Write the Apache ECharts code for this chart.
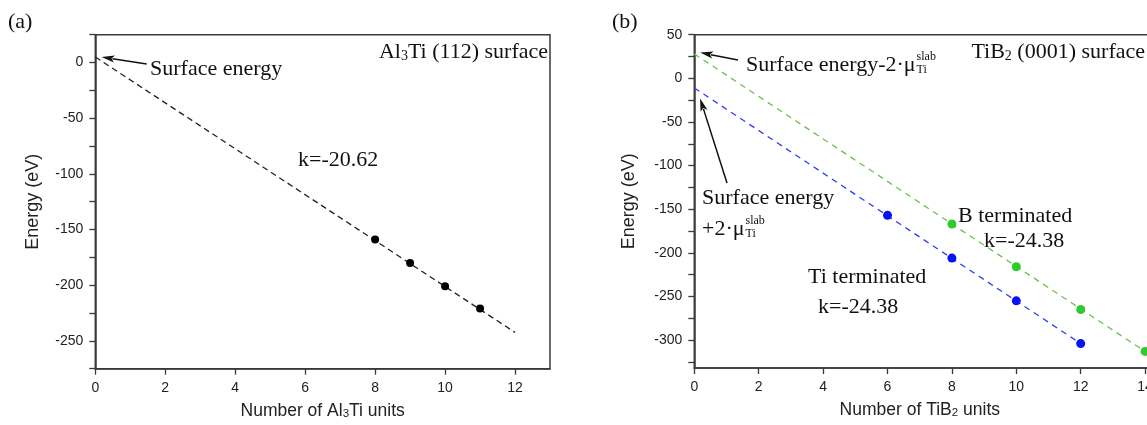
<!DOCTYPE html>
<html><head><meta charset="utf-8">
<script src="https://cdn.jsdelivr.net/npm/echarts@6/dist/echarts.min.js"></script>
<style>html,body{margin:0;padding:0;background:#fff}#c{width:1147px;height:425px}</style>
</head><body><div id="c"></div>
<script>
// ---- data ----
const alUnits = [8, 9, 10, 11];
const alEnergy = [-159, -180, -201, -221];
const alFitX = [0, 12];
const alFitY = [5, -242.4];

const tiUnits = [6, 8, 10, 12];
const tiEnergy = [-157, -206, -255, -304];
const tiFitX = [0, 12];
const tiFitY = [-11, -304];

const bUnits = [8, 10, 12, 14];
const bEnergy = [-167, -216, -265, -313];
const bFitX = [0, 14];
const bFitY = [28, -313];

const xTicksA = [0, 2, 4, 6, 8, 10, 12];
const yTicksA = [-275, -250, -225, -200, -175, -150, -125, -100, -75, -50, -25, 0, 25];
const yLabelsA = [-250, -200, -150, -100, -50, 0];
const xTicksB = [0, 2, 4, 6, 8, 10, 12, 14];
const yTicksB = [-325, -300, -275, -250, -225, -200, -175, -150, -125, -100, -75, -50, -25, 0, 25, 50];
const yLabelsB = [-300, -250, -200, -150, -100, -50, 0, 50];

const SERIF = '"Liberation Serif","Times New Roman",serif';
const SANS = '"Liberation Sans",Arial,sans-serif';
const AX = '#3a3a3a';

function pairs(xs, ys) { return xs.map((x, i) => [x, ys[i]]); }

function xAxisCfg(gi, min, max, ticks, nameRich, pad) {
  return {
    type: 'value', gridIndex: gi, min: min, max: max,
    name: nameRich, nameLocation: 'middle', nameGap: 31,
    nameTextStyle: { fontFamily: SANS, fontSize: 17.5, color: '#222', padding: pad,
      rich: { a: { fontFamily: SANS, fontSize: 17.5, color: '#222', verticalAlign: 'bottom', lineHeight: 20 },
              s: { fontFamily: SANS, fontSize: 11.5, color: '#222', verticalAlign: 'bottom', lineHeight: 19 } } },
    axisLine: { show: true, onZero: false, lineStyle: { color: AX, width: 1.5 } },
    axisTick: { show: true, length: 6, customValues: ticks, lineStyle: { color: AX, width: 1.3 } },
    axisLabel: { customValues: ticks, margin: 12, fontFamily: SANS, fontSize: 14, color: '#222' },
    splitLine: { show: false }
  };
}
function yAxisCfg(gi, min, max, ticks, labels, gap) {
  return {
    type: 'value', gridIndex: gi, min: min, max: max,
    name: 'Energy (eV)', nameLocation: 'middle', nameGap: gap,
    nameTextStyle: { fontFamily: SANS, fontSize: 18, color: '#222' },
    axisLine: { show: true, onZero: false, lineStyle: { color: AX, width: 1.5 } },
    axisTick: { show: true, length: 6, customValues: ticks, lineStyle: { color: AX, width: 1.3 } },
    axisLabel: { customValues: labels, margin: 12, fontFamily: SANS, fontSize: 14, color: '#222' },
    splitLine: { show: false }
  };
}

const chart = echarts.init(document.getElementById('c'), null, { renderer: 'canvas' });

const option = {
  animation: false,
  backgroundColor: '#fff',
  grid: [
    { left: 95.3, top: 34.7, width: 454.7, height: 334, containLabel: false, outerBoundsMode: 'none',
      show: true, borderColor: AX, borderWidth: 1.5, backgroundColor: 'transparent' },
    { left: 694.3, top: 34.7, width: 483, height: 333.3, containLabel: false, outerBoundsMode: 'none',
      show: true, borderColor: AX, borderWidth: 1.5, backgroundColor: 'transparent' }
  ],
  xAxis: [
    xAxisCfg(0, 0, 13, xTicksA, '{a|Number of Al}{s|3}{a|Ti units}', [0, 0, 0, 0]),
    xAxisCfg(1, 0, 15, xTicksB, '{a|Number of TiB}{s|2}{a| units}', [0, 32, 0, 0])
  ],
  yAxis: [
    yAxisCfg(0, -275, 25, yTicksA, yLabelsA, 53),
    yAxisCfg(1, -332, 50, yTicksB, yLabelsB, 56)
  ],
  series: [
    { type: 'line', xAxisIndex: 0, yAxisIndex: 0, data: pairs(alFitX, alFitY), symbol: 'none',
      lineStyle: { color: '#222', width: 1.3, type: [6, 4] }, z: 2 },
    { type: 'scatter', xAxisIndex: 0, yAxisIndex: 0, data: pairs(alUnits, alEnergy), symbolSize: 8,
      itemStyle: { color: '#000', opacity: 1 }, z: 3 },
    { type: 'line', xAxisIndex: 1, yAxisIndex: 1, data: pairs(tiFitX, tiFitY), symbol: 'none',
      lineStyle: { color: '#2b3df2', width: 1.3, type: [6, 5] }, z: 2 },
    { type: 'line', xAxisIndex: 1, yAxisIndex: 1, data: pairs(bFitX, bFitY), symbol: 'none',
      lineStyle: { color: '#6cc04a', width: 1.3, type: [6, 5] }, z: 2 },
    { type: 'scatter', xAxisIndex: 1, yAxisIndex: 1, data: pairs(tiUnits, tiEnergy), symbolSize: 9,
      itemStyle: { color: '#0a12f0', opacity: 1 }, z: 3 },
    { type: 'scatter', xAxisIndex: 1, yAxisIndex: 1, data: pairs(bUnits, bEnergy), symbolSize: 9,
      itemStyle: { color: '#2ecb2e', opacity: 1 }, z: 3 }
  ]
};
chart.setOption(option);

// ---- annotations ----
const mctx = document.createElement('canvas').getContext('2d');
function tw(t, size) { mctx.font = size + 'px ' + SERIF; return mctx.measureText(t).width; }

function txt(x, y, text, size, align) {
  return { type: 'text', z: 50, style: { x: x, y: y, text: text, fontFamily: SERIF, fontSize: size,
    fill: '#111', align: align || 'left', verticalAlign: 'middle' } };
}
function richTxt(x, y, text, align) {
  return { type: 'text', z: 50, style: { x: x, y: y, text: text, fontFamily: SERIF, fontSize: 22,
    fill: '#111', align: align || 'left', verticalAlign: 'middle',
    rich: { a: { fontFamily: SERIF, fontSize: 22, fill: '#111', verticalAlign: 'bottom', lineHeight: 26 },
            s: { fontFamily: SERIF, fontSize: 14, fill: '#111', verticalAlign: 'bottom', lineHeight: 24 } } } };
}
function arrow(tail, tip) {
  const dx = tip[0] - tail[0], dy = tip[1] - tail[1];
  const L = Math.sqrt(dx * dx + dy * dy), ux = dx / L, uy = dy / L;
  const hl = 13, hw = 3.6;
  const bx = tip[0] - ux * hl, by = tip[1] - uy * hl;
  return [
    { type: 'line', z: 50, shape: { x1: tail[0], y1: tail[1], x2: bx + ux * 2, y2: by + uy * 2 },
      style: { stroke: '#111', lineWidth: 1.5 } },
    { type: 'polygon', z: 50, shape: { points: [tip, [bx - uy * hw, by + ux * hw], [bx + ux * 3, by + uy * 3], [bx + uy * hw, by - ux * hw]] },
      style: { fill: '#111' } }
  ];
}
function muLabel(x, y, prefix) {
  const w = tw(prefix, 22);
  return [
    txt(x, y, prefix, 22),
    txt(x + w + 1, y - 8, 'slab', 12),
    txt(x + w + 1, y + 5, 'Ti', 12)
  ];
}

const tipA = chart.convertToPixel({ gridIndex: 0 }, [0.18, 5]);
const tipB1 = chart.convertToPixel({ gridIndex: 1 }, [0.18, 29.5]);
const tipB2 = chart.convertToPixel({ gridIndex: 1 }, [0.18, -23]);

let els = [];
els.push(txt(8, 22, '(a)', 22));
els.push(txt(150, 69, 'Surface energy', 22));
els.push(richTxt(548, 50, '{a|Al}{s|3}{a|Ti (112) surface}', 'right'));
els.push(txt(298, 160, 'k=-20.62', 22));
els = els.concat(arrow([146.7, 64], tipA));

els.push(txt(612, 22, '(b)', 22));
els = els.concat(muLabel(746, 65, 'Surface energy-2\u00b7\u03bc'));
els.push(richTxt(1145, 50, '{a|TiB}{s|2}{a| (0001) surface}', 'right'));
els = els.concat(arrow([738, 60], tipB1));
els.push(txt(702, 198, 'Surface energy', 22));
els = els.concat(muLabel(702, 229, '+2\u00b7\u03bc'));
els = els.concat(arrow([727, 183], tipB2));
els.push(txt(958, 216, 'B terminated', 22));
els.push(txt(984, 241, 'k=-24.38', 22));
els.push(txt(808, 277, 'Ti terminated', 22));
els.push(txt(818, 307, 'k=-24.38', 22));

chart.setOption({ graphic: { elements: els } });
</script>
</body></html>
